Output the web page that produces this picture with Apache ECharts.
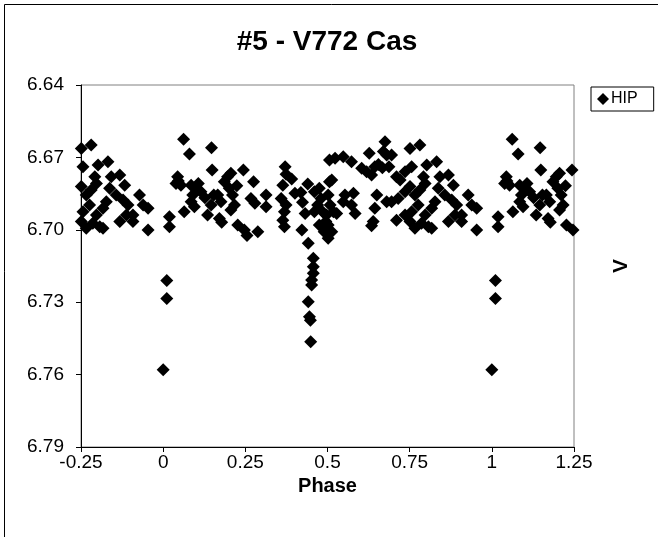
<!DOCTYPE html>
<html>
<head>
<meta charset="utf-8">
<script src="https://cdn.jsdelivr.net/npm/echarts@6/dist/echarts.min.js"></script>
<style>
html,body{margin:0;padding:0;background:#fff;}
#chart{width:658px;height:537px;}
</style>
</head>
<body>
<div id="chart"></div>
<script>
// Phase-folded observations (phase in [0,1), V magnitude)
var phases = [
  0.019,0.019,0.062,0.080,0.044,0.039,0.054,0.046,0.064,0.085,
  0.100,0.107,0.090,0.085,0.095,0.115,0.127,0.135,0.146,0.154,
  0.147,0.149,0.166,0.176,0.171,0.178,0.186,0.196,0.201,0.206,
  0.211,0.217,0.206,0.224,0.244,0.227,0.247,0.255,0.288,0.275,
  0.267,0.279,0.313,0.313,0.371,0.374,0.391,0.364,0.359,0.374,
  0.369,0.364,0.369,0.401,0.419,0.424,0.432,0.422,0.440,0.460,
  0.475,0.480,0.470,0.460,0.485,0.495,0.475,0.490,0.506,0.506,
  0.513,0.502,0.508,0.497,0.518,0.502,0.513,0.502,0.523,0.548,
  0.573,0.553,0.579,0.573,0.584,0.548,0.528,0.650,0.644,0.639,
  0.634,0.675,0.680,0.695,0.670,0.655,0.644,0.619,0.604,0.634,
  0.627,0.667,0.687,0.751,0.781,0.756,0.736,0.721,0.710,0.710,
  0.680,0.695,0.715,0.736,0.751,0.802,0.832,0.766,0.781,0.792,
  0.797,0.776,0.756,0.736,0.751,0.766,0.786,0.807,0.817,0.797,
  0.817,0.827,0.837,0.842,0.868,0.883,0.857,0.878,0.893,0.888,
  0.868,0.908,0.928,0.939,0.954,0.954,0.908,
  0.011,0.011,0.000,
  0.4415,0.4568,0.4568,0.4568,0.4517,0.4517,0.4415,0.445,0.448,0.4488
];
var mags = [
  6.6946,6.6987,6.6625,6.6686,6.6780,6.6808,6.6815,6.6798,6.6925,6.6815,
  6.6828,6.6808,6.6856,6.6884,6.6904,6.6842,6.6867,6.6939,6.6897,6.6856,
  6.6660,6.6752,6.6856,6.6884,6.6953,6.6969,6.6801,6.6780,6.6828,6.6766,
  6.6856,6.6897,6.6918,6.6817,6.6752,6.6980,6.7001,6.7024,6.7008,6.6801,
  6.6870,6.6890,6.6856,6.6904,6.6739,6.6770,6.6790,6.6815,6.6870,6.6897,
  6.6925,6.6960,6.6987,6.6849,6.6845,6.6886,6.6932,6.7001,6.6810,6.6842,
  6.6828,6.6870,6.6897,6.6925,6.6925,6.6966,6.6980,6.7008,6.6801,6.6711,
  6.6794,6.6856,6.6897,6.6939,6.6925,6.6980,6.7008,6.7035,6.6704,6.6697,
  6.6718,6.6856,6.6849,6.6897,6.6932,6.6884,6.6932,6.6856,6.6911,6.6966,
  6.6983,6.6635,6.6690,6.6690,6.6676,6.6729,6.6739,6.6759,6.6745,6.6773,
  6.6683,6.6743,6.6739,6.6663,6.6649,6.6739,6.6759,6.6794,6.6780,6.6960,
  6.6884,6.6884,6.6870,6.6842,6.6821,6.6732,6.6718,6.6856,6.6835,6.6780,
  6.6808,6.6897,6.6925,6.6939,6.6966,6.6994,6.6973,6.6987,6.6994,6.6939,
  6.6911,6.6884,6.6828,6.6780,6.6773,6.6815,6.6856,6.6877,6.6897,6.6939,
  6.6966,6.6939,6.6856,6.6897,6.6911,6.7001,6.6966,
  6.7210,6.7285,6.7580,
  6.7056,6.7118,6.7153,6.7180,6.7208,6.7229,6.7298,6.7360,6.7375,6.7464
];
var xTicks = ['-0.25','0','0.25','0.5','0.75','1','1.25'];
var yTicks = ['6.64','6.67','6.70','6.73','6.76','6.79'];
var seriesName = 'HIP';
var titleText = '#5 - V772 Cas';
var xName = 'Phase';
var yName = 'V';

// Phase plot repeats the cycle over -0.25 .. 1.25
var pts = [];
for (var i = 0; i < phases.length; i++) {
  pts.push([phases[i], mags[i]]);
  if (phases[i] >= 0.75) pts.push([phases[i] - 1, mags[i]]);
  if (phases[i] < 0.25) pts.push([phases[i] + 1, mags[i]]);
}

var chart = echarts.init(document.getElementById('chart'));
var font = 'Arial, "Liberation Sans", sans-serif';
chart.setOption({
  animation: false,
  backgroundColor: '#fff',
  title: {
    text: titleText, left: 322, top: 23, textAlign: 'center',
    textStyle: { fontFamily: font, fontSize: 28, fontWeight: 'bold', color: '#000' }
  },
  legend: {
    left: 591, top: 87, orient: 'vertical',
    borderColor: '#000', borderWidth: 1, padding: [4, 16, 4, 6],
    backgroundColor: '#fff',
    itemWidth: 12, itemHeight: 12, itemGap: 2,
    textStyle: { fontFamily: font, fontSize: 16, color: '#000', padding: [0,0,0,-3] },
    data: [{ name: seriesName, icon: 'diamond' }]
  },
  grid: {
    left: 81, top: 85, width: 493, height: 362,
    show: true, borderColor: '#808080', borderWidth: 1, backgroundColor: '#fff'
  },
  xAxis: {
    type: 'value', min: -0.25, max: 1.25, interval: 0.25,
    name: xName, nameLocation: 'middle', nameGap: 29,
    nameTextStyle: { fontFamily: font, fontSize: 20, fontWeight: 'bold', color: '#000' },
    axisLine: { onZero: false, lineStyle: { color: '#000', width: 1 } },
    axisTick: { show: true, inside: false, length: 5, lineStyle: { color: '#000' } },
    axisLabel: {
      fontFamily: font, fontSize: 19, color: '#000', margin: 6,
      formatter: function (v) { var idx = Math.round((v + 0.25) / 0.25); return xTicks[idx] || ''; }
    },
    splitLine: { show: false }
  },
  yAxis: {
    type: 'value', inverse: true, min: 6.64, max: 6.79, interval: 0.03,
    axisLine: { onZero: false, lineStyle: { color: '#000', width: 1 } },
    axisTick: { show: true, inside: false, length: 5, lineStyle: { color: '#000' } },
    axisLabel: {
      fontFamily: font, fontSize: 19, color: '#000', margin: 17,
      formatter: function (v) { var idx = Math.round((v - 6.64) / 0.03); return yTicks[idx] || ''; }
    },
    splitLine: { show: false }
  },
  graphic: [
    { type: 'rect', shape: { x: 4.5, y: 4.5, width: 800, height: 800 },
      style: { fill: 'none', stroke: '#000', lineWidth: 1 }, silent: true },
    { type: 'text', x: 621, y: 266, rotation: Math.PI / 2,
      style: { text: yName, font: 'bold 21px ' + font, fill: '#000', textAlign: 'center', textVerticalAlign: 'middle' } }
  ],
  series: [{
    name: seriesName, type: 'scatter', symbol: 'diamond', symbolSize: 13,
    itemStyle: { color: '#000', opacity: 1 },
    data: pts
  }]
});
</script>
</body>
</html>
